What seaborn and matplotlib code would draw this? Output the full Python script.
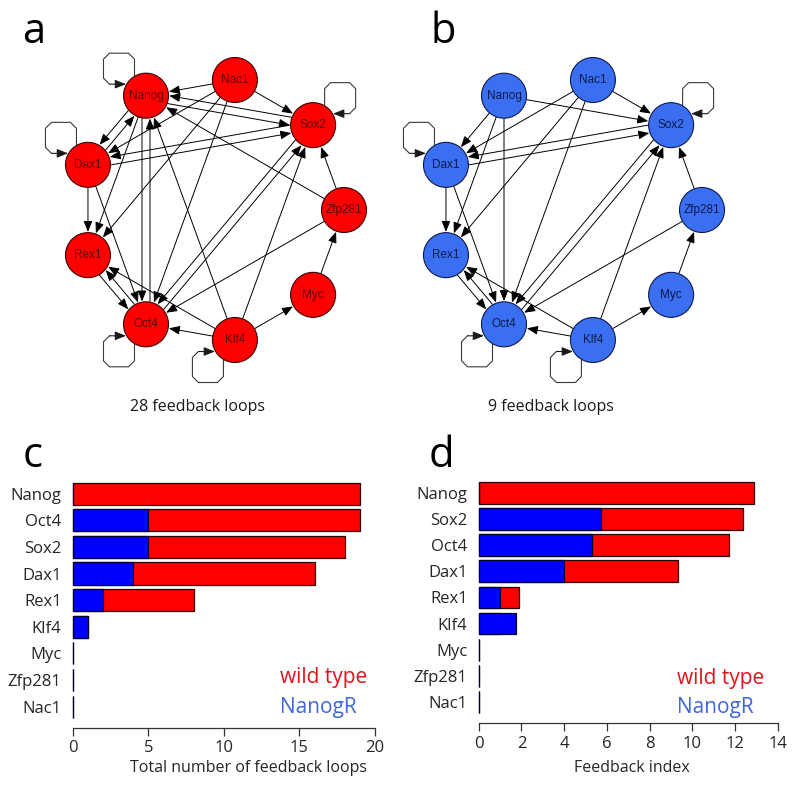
import numpy as np
import pandas as pd
import matplotlib
matplotlib.use('Agg')
import matplotlib.pyplot as plt
from matplotlib.patches import Circle, FancyArrowPatch
import seaborn as sns

# ---------------- data ----------------
layout_order = ['Zfp281', 'Sox2', 'Nac1', 'Nanog', 'Dax1', 'Rex1', 'Oct4', 'Klf4', 'Myc']

wt_edges = [
    ('Nac1', 'Nanog'), ('Nac1', 'Sox2'), ('Nac1', 'Dax1'), ('Nac1', 'Rex1'), ('Nac1', 'Oct4'),
    ('Nanog', 'Sox2'), ('Sox2', 'Nanog'), ('Nanog', 'Dax1'), ('Dax1', 'Nanog'),
    ('Dax1', 'Sox2'), ('Sox2', 'Dax1'), ('Nanog', 'Rex1'),
    ('Nanog', 'Oct4'), ('Oct4', 'Nanog'), ('Dax1', 'Rex1'), ('Dax1', 'Oct4'),
    ('Rex1', 'Oct4'), ('Oct4', 'Rex1'), ('Klf4', 'Rex1'), ('Klf4', 'Oct4'),
    ('Klf4', 'Nanog'), ('Klf4', 'Sox2'), ('Klf4', 'Myc'), ('Myc', 'Zfp281'),
    ('Zfp281', 'Sox2'), ('Zfp281', 'Nanog'), ('Zfp281', 'Oct4'),
    ('Sox2', 'Oct4'), ('Oct4', 'Sox2'),
]
wt_loops = ['Nanog', 'Dax1', 'Sox2', 'Oct4', 'Klf4']

nr_edges = [
    ('Nanog', 'Sox2'), ('Nanog', 'Dax1'), ('Nanog', 'Rex1'), ('Nanog', 'Oct4'),
    ('Nac1', 'Sox2'), ('Nac1', 'Dax1'), ('Nac1', 'Rex1'), ('Nac1', 'Oct4'),
    ('Dax1', 'Sox2'), ('Sox2', 'Dax1'), ('Dax1', 'Rex1'), ('Dax1', 'Oct4'),
    ('Rex1', 'Oct4'), ('Oct4', 'Rex1'), ('Klf4', 'Rex1'), ('Klf4', 'Oct4'),
    ('Klf4', 'Sox2'), ('Klf4', 'Myc'), ('Myc', 'Zfp281'),
    ('Zfp281', 'Sox2'), ('Zfp281', 'Oct4'), ('Sox2', 'Oct4'), ('Oct4', 'Sox2'),
]
nr_loops = ['Dax1', 'Sox2', 'Oct4', 'Klf4']

wt_caption = '28 feedback loops'
nr_caption = '9 feedback loops'

c_genes = ['Nanog', 'Oct4', 'Sox2', 'Dax1', 'Rex1', 'Klf4', 'Myc', 'Zfp281', 'Nac1']
c_wild = [19, 19, 18, 16, 8, 1, 0, 0, 0]
c_nanogr = [0, 5, 5, 4, 2, 1, 0, 0, 0]

d_genes = ['Nanog', 'Sox2', 'Oct4', 'Dax1', 'Rex1', 'Klf4', 'Myc', 'Zfp281', 'Nac1']
d_wild = [12.88, 12.35, 11.72, 9.34, 1.87, 1.0, 0, 0, 0]
d_nanogr = [0, 5.72, 5.32, 4.0, 1.0, 1.75, 0, 0, 0]

c_xlabel = 'Total number of feedback loops'
d_xlabel = 'Feedback index'
legend_labels = ['wild type', 'NanogR']

# ---------------- style ----------------
sns.set_style('white')
plt.rcParams['font.family'] = ['Open Sans', 'DejaVu Sans']

RED = '#ff0000'
BLUE = '#0000ff'
NODE_BLUE = '#3b6ff2'
TXT_RED = '#e3121c'
TXT_BLUE = '#3f66dc'

loop_dirs = {'Nanog': (-1, -1), 'Dax1': (-1, -1), 'Sox2': (1, -1),
             'Oct4': (-1, 1), 'Klf4': (-1, 1)}

W, H = 800, 788
fig = plt.figure(figsize=(W / 100, H / 100), dpi=100)

ARROW = '-|>,head_length=0.55,head_width=0.22'


def draw_network(ax, edges, loops, fc, ec, tc, cx, cy=210, R=132, r=22.5):
    pos = {}
    for i, g in enumerate(layout_order):
        th = np.deg2rad(40 * i)
        pos[g] = np.array([cx + R * np.cos(th), cy - R * np.sin(th)])
    eset = set(edges)
    for s, t in edges:
        p, q = pos[s], pos[t]
        u = (q - p) / np.linalg.norm(q - p)
        perp = np.array([-u[1], u[0]])
        off = 4.0 if (t, s) in eset else 0.0
        re = np.sqrt(r ** 2 - off ** 2)
        a = p + perp * off + u * re
        b = q + perp * off - u * re
        ax.add_patch(FancyArrowPatch(tuple(a), tuple(b), arrowstyle=ARROW,
                                     mutation_scale=12, lw=0.7, color='black',
                                     shrinkA=0, shrinkB=0.5, zorder=2))
    d, h, c = 27.0, 15.5, 6.0
    sidx = -d + np.sqrt(r ** 2 - (d - h) ** 2)
    for g in loops:
        sx, sy = loop_dirs[g]
        cen = pos[g] + np.array([sx * d, sy * d])
        local = [(-h, sidx), (-h, h - c), (-h + c, h), (h - c, h), (h, h - c),
                 (h, -h + c), (h - c, -h), (sidx, -h)]
        pts = np.array([cen + np.array([sx * aa, sy * bb]) for aa, bb in local])
        ax.plot(pts[:-1, 0], pts[:-1, 1], color='#3a3a3a', lw=0.8, zorder=2,
                solid_joinstyle='miter')
        ax.add_patch(FancyArrowPatch(tuple(pts[-2]), tuple(pts[-1]), arrowstyle=ARROW,
                                     mutation_scale=12, lw=0.8, color='#1a1a1a',
                                     shrinkA=0, shrinkB=0.5, zorder=2))
    for g, p in pos.items():
        ax.add_patch(Circle(tuple(p), r, fc=fc, ec=ec, lw=0.8, zorder=3))
        ax.text(p[0], p[1], g, ha='center', va='center', fontsize=8.5, color=tc,
                family=['Liberation Sans', 'DejaVu Sans'], zorder=4)
    ax.set_xlim(0, 400)
    ax.set_ylim(420, 0)
    ax.axis('off')


axA = fig.add_axes([0, 1 - 420 / H, 0.5, 420 / H])
draw_network(axA, wt_edges, wt_loops, RED, '#3a0000', '#5a0000', cx=212)
axA.text(197, 407, wt_caption, ha='center', va='center', fontsize=11.5, color='#1a1a1a')

axB = fig.add_axes([0.5, 1 - 420 / H, 0.5, 420 / H])
draw_network(axB, nr_edges, nr_loops, NODE_BLUE, '#0d1a4a', '#0b1a4d', cx=170)
axB.text(151, 407, nr_caption, ha='center', va='center', fontsize=11.5, color='#1a1a1a')


def draw_bars(ax, genes, wild, nanogr, xmax, step, xlabel, lab_xy, leg_x, leg_y):
    df = pd.DataFrame({'gene': genes, 'wild': wild, 'nanogr': nanogr})
    sns.barplot(data=df, x='wild', y='gene', order=genes, orient='h', color=RED,
                saturation=1, width=0.83, edgecolor='#2a0000', linewidth=0.9, ax=ax)
    sns.barplot(data=df, x='nanogr', y='gene', order=genes, orient='h', color=BLUE,
                saturation=1, width=0.83, edgecolor='#00002a', linewidth=0.9, ax=ax)
    for p in ax.patches:
        p.set_clip_on(False)
    ax.set_xlim(0, xmax)
    ax.set_ylim(8.8, -0.55)
    for sp in ['left', 'top', 'right']:
        ax.spines[sp].set_visible(False)
    ax.spines['bottom'].set_bounds(0, xmax)
    ax.spines['bottom'].set_color('#333333')
    ax.spines['bottom'].set_linewidth(0.9)
    ax.set_xticks(np.arange(0, xmax + 0.1, step))
    ax.tick_params(axis='x', length=6, width=0.9, color='#333333', labelsize=12,
                   pad=3, direction='out', bottom=True)
    ax.tick_params(axis='y', length=0, labelsize=12, pad=8)
    ax.set_ylabel('')
    ax.set_xlabel(xlabel, fontsize=11.5)
    ax.xaxis.set_label_coords(*lab_xy)
    ax.text(leg_x, leg_y[0], legend_labels[0], transform=ax.transAxes, color=TXT_RED,
            fontsize=15, ha='left', va='center')
    ax.text(leg_x, leg_y[1], legend_labels[1], transform=ax.transAxes, color=TXT_BLUE,
            fontsize=15, ha='left', va='center')


axC = fig.add_axes([72.7 / W, 1 - 728 / H, 302.3 / W, 249 / H])
draw_bars(axC, c_genes, c_wild, c_nanogr, 20, 5, c_xlabel, (0.583, -0.128),
          0.686, (0.201, 0.084))

axD = fig.add_axes([478.7 / W, 1 - 723 / H, 299.3 / W, 244.5 / H])
draw_bars(axD, d_genes, d_wild, d_nanogr, 14, 2, d_xlabel, (0.512, -0.151),
          0.663, (0.184, 0.065))

for lbl, x, y in [('a', 22, 43), ('b', 431, 43), ('c', 23, 467), ('d', 429, 467)]:
    fig.text(x / W, 1 - y / H, lbl, fontsize=30, ha='left', va='baseline', color='black')

fig.savefig('out.png', dpi=100)
